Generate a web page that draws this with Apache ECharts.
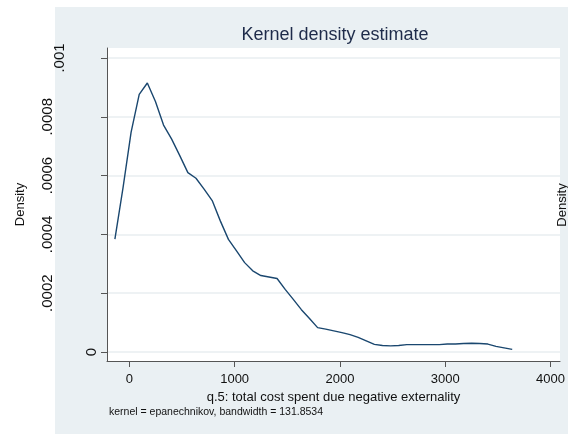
<!DOCTYPE html>
<html>
<head>
<meta charset="utf-8">
<script src="https://cdn.jsdelivr.net/npm/echarts@6/dist/echarts.min.js"></script>
<style>
  html, body { margin: 0; padding: 0; background: #fff; }
  #kdensity { width: 568px; height: 434px; }
</style>
</head>
<body>
<div id="kdensity"></div>
<script>
// evaluation points of the kernel density (q.5 values)
const xGrid = [
  -137, -60, 17, 94, 171, 248, 325, 402, 479, 556,
  633, 710, 787, 864, 941, 1018, 1095, 1172, 1249, 1326,
  1403, 1480, 1557, 1634, 1711, 1788, 1865, 1942, 2019, 2096,
  2173, 2250, 2327, 2404, 2481, 2558, 2635, 2712, 2789, 2866,
  2943, 3020, 3097, 3174, 3251, 3328, 3405, 3482, 3559, 3636
];
const density = [
  0.000384, 0.000558, 0.000748, 0.000876, 0.000915, 0.000852, 0.000772, 0.000724, 0.000668, 0.000610,
  0.000591, 0.000554, 0.000515, 0.000446, 0.000383, 0.000344, 0.000304, 0.000276, 0.000260, 0.000255,
  0.000250, 0.000213, 0.000179, 0.000144, 0.000114, 0.000083, 0.000078, 0.000072, 0.000066, 0.000059,
  0.000050, 0.000038, 0.000026, 0.000022, 0.000021, 0.000022, 0.000025, 0.000025, 0.000025, 0.000025,
  0.000025, 0.000027, 0.000027, 0.000029, 0.000030, 0.000029, 0.000027, 0.000019, 0.000014, 0.000009
];
const xTicks = [0, 1000, 2000, 3000, 4000];
const yTicks = [0, 0.0002, 0.0004, 0.0006, 0.0008, 0.001];
const yTickLabels = ["0", ".0002", ".0004", ".0006", ".0008", ".001"];

const font = "'Liberation Sans', Arial, sans-serif";

let chartDom = document.getElementById("kdensity");
let myChart = echarts.init(chartDom);

function yLabel(value) {
  let i = yTicks.findIndex(v => Math.abs(v - value) < 1e-9);
  if (i < 0) return "";
  let txt = yTickLabels[i];
  if (i === 0) return "{z|" + txt + "}";
  if (i === yTicks.length - 1) return "{t|" + txt + "}";
  return "{n|" + txt + "}";
}

let labelBase = { fontSize: 15, fontFamily: font, color: "#111" };

let option = {
  backgroundColor: "#fff",
  animation: false,
  title: {
    text: "Kernel density estimate",
    left: 335,
    top: 26,
    padding: 0,
    textAlign: "center",
    textStyle: {
      fontSize: 18,
      fontWeight: "normal",
      fontFamily: font,
      color: "#1e2b4a"
    }
  },
  graphic: [
    {
      type: "rect",
      z: -10,
      silent: true,
      shape: { x: 55, y: 7, width: 513, height: 427 },
      style: { fill: "#eaf0f3" }
    },
    {
      type: "text",
      x: 109,
      y: 412,
      style: {
        text: "kernel = epanechnikov, bandwidth = 131.8534",
        fontSize: 10.5,
        fontFamily: font,
        fill: "#111",
        verticalAlign: "middle"
      }
    },
    {
      type: "text",
      x: 562.5,
      y: 205,
      rotation: Math.PI / 2,
      style: {
        text: "Density",
        fontSize: 13,
        fontFamily: font,
        fill: "#111",
        align: "center",
        verticalAlign: "middle"
      }
    }
  ],
  grid: {
    left: 107,
    top: 48,
    right: 5,
    bottom: 73,
    show: true,
    backgroundColor: "#fff",
    borderWidth: 0
  },
  xAxis: {
    type: "value",
    min: -212,
    max: 4090,
    name: "q.5: total cost spent due negative externality",
    nameLocation: "middle",
    nameGap: 26,
    nameTextStyle: { fontSize: 13, fontFamily: font, color: "#111" },
    axisLine: { show: true, onZero: false, lineStyle: { color: "#555", width: 1 } },
    axisTick: { show: true, length: 6, customValues: xTicks, lineStyle: { color: "#555" } },
    axisLabel: {
      customValues: xTicks,
      formatter: v => String(v),
      margin: 12,
      fontSize: 13,
      fontFamily: font,
      color: "#111"
    },
    splitLine: { show: false }
  },
  yAxis: {
    type: "value",
    min: -0.0000306,
    max: 0.001034,
    name: "Density",
    nameLocation: "middle",
    nameGap: 80,
    nameTextStyle: { fontSize: 13, fontFamily: font, color: "#111" },
    axisLine: { show: true, onZero: false, lineStyle: { color: "#555", width: 1 } },
    axisTick: { show: true, length: 6, customValues: yTicks, lineStyle: { color: "#555" } },
    axisLabel: {
      customValues: yTicks,
      rotate: 90,
      margin: 8,
      formatter: yLabel,
      rich: {
        z: Object.assign({}, labelBase),
        n: Object.assign({ padding: [0, 0, 44, 0] }, labelBase),
        t: Object.assign({ padding: [0, 0, 32, 0] }, labelBase)
      }
    },
    splitLine: { show: true, lineStyle: { color: "#e8eef1", width: 1.5 } }
  },
  series: [
    {
      type: "line",
      data: xGrid.map((x, i) => [x, density[i]]),
      showSymbol: false,
      smooth: false,
      lineStyle: { color: "#1a476f", width: 1.4 }
    }
  ]
};

myChart.setOption(option);
</script>
</body>
</html>
